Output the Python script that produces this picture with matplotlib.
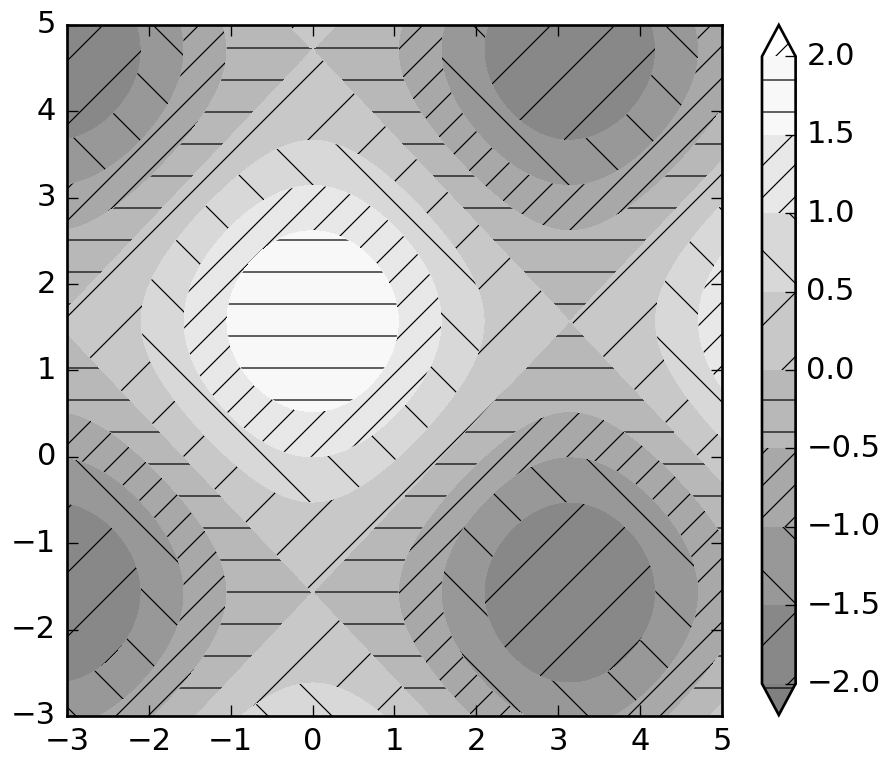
import numpy as np
import matplotlib
matplotlib.use('Agg')
import matplotlib.pyplot as plt
from matplotlib.colors import LinearSegmentedColormap

plt.style.use('classic')
plt.rcParams['font.size'] = 11.5
plt.rcParams['hatch.linewidth'] = 0.45
plt.rcParams['hatch.color'] = 'black'

# grid and surface
x = np.linspace(-3, 5, 150)
y = np.linspace(-3, 5, 120)
levels = [-2.0, -1.5, -1.0, -0.5, 0.0, 0.5, 1.0, 1.5, 2.0]
hatches = ['-', '/', '\\', '//']
xticks = [-3, -2, -1, 0, 1, 2, 3, 4, 5]
yticks = [-3, -2, -1, 0, 1, 2, 3, 4, 5]

z = np.cos(x[np.newaxis, :]) + np.sin(y[:, np.newaxis])

# gray cmap at half alpha over white, so hatch lines stay black
half_gray = LinearSegmentedColormap.from_list('half_gray', ['#808080', '#ffffff'])

fig = plt.figure(figsize=(885 / 192, 759 / 192), dpi=192, facecolor='white')
ax = fig.add_axes([0.0757, 0.0567, 0.7401, 0.9104])
cs = ax.contourf(x, y, z, levels=levels, hatches=hatches,
                 cmap=half_gray, extend='both')
ax.set_xlim(-3, 5)
ax.set_ylim(-3, 5)
ax.set_xticks(xticks)
ax.set_yticks(yticks)

cax = fig.add_axes([0.861, 0.058, 0.038, 0.909])
cb = fig.colorbar(cs, cax=cax)

fig.savefig('out.png', dpi=192, facecolor='white')
